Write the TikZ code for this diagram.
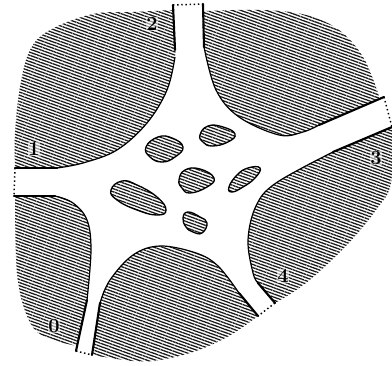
\documentclass[tikz,border=0pt]{standalone}
\usetikzlibrary{patterns.meta}
\definecolor{hatchc}{gray}{0.1}
\tikzset{
  x=0.75pt,y=-0.75pt,
  hatched/.style={pattern={Lines[angle=-20,distance=2.2pt,line width=0.95pt]},pattern color=hatchc},
  wall/.style={line width=1.6pt,black,line cap=round},
  thin wall/.style={line width=0.9pt,black},
  gate/.style={line width=1.1pt,black,dotted},
  hole/.style={hatched,draw=black,line width=1pt},
  lab/.style={font=\fontsize{15}{15}\selectfont\bfseries,inner sep=0.5pt,fill=white,fill opacity=0.55,text opacity=1}
}
\begin{document}
\begin{tikzpicture}
\useasboundingbox (0,0) rectangle (392,366);
% top-left region
\path[hatched] plot[smooth,tension=0.6] coordinates {(57,168) (83,163) (117,150) (147,123) (167,90) (175,57) (175,33) (173,10)}
  -- plot[smooth,tension=0.6] coordinates {(173,10) (133,12) (93,14) (50,30) (30,50) (20,87) (15,133) (15,168)} -- cycle;
% top-right region
\path[hatched] plot[smooth,tension=0.6] coordinates {(203,11) (204,47) (216,90) (239,117) (279,135) (303,132) (319,125) (378,99)}
  -- plot[smooth,tension=0.6] coordinates {(378,99) (378,93) (363,57) (339,30) (306,15) (263,10) (203,11)} -- cycle;
% right region
\path[hatched] plot[smooth,tension=0.6] coordinates {(392,127) (333,152) (276,183) (256,206) (248,240) (253,273) (258,283) (275,303)}
  -- plot[smooth,tension=0.6] coordinates {(275,303) (306,283) (346,246) (376,210) (391,183) (392,127)} -- cycle;
% bottom-middle region
\path[hatched] plot[smooth,tension=0.6] coordinates {(92,355) (100,303) (110,280) (133,255) (160,246) (196,253) (218,266) (239,293) (258,316)}
  -- plot[smooth,tension=0.6] coordinates {(258,316) (229,336) (196,351) (160,360) (133,361) (92,355)} -- cycle;
% bottom-left region
\path[hatched] plot[smooth,tension=0.6] coordinates {(15,196) (55,196) (73,203) (87,220) (91,250) (87,300) (77,346)}
  -- plot[smooth,tension=0.6] coordinates {(77,346) (43,336) (27,316) (17,273) (15,196)} -- cycle;
% boundary curves
\draw[thin wall] plot[smooth,tension=0.6] coordinates {(57,168) (83,163) (117,150) (147,123) (167,90) (175,57)};
\draw[thin wall] plot[smooth,tension=0.6] coordinates {(204,47) (216,90) (239,117) (279,135) (303,132) (319,125)};
\draw[thin wall] plot[smooth,tension=0.6] coordinates {(333,152) (276,183) (256,206) (248,240) (253,273) (258,283)};
\draw[thin wall] plot[smooth,tension=0.6] coordinates {(100,303) (110,280) (133,255) (160,246) (196,253) (218,266) (239,293)};
\draw[thin wall] plot[smooth,tension=0.6] coordinates {(55,196) (73,203) (87,220) (91,250) (87,300)};
% holes
\draw[hole] plot[smooth cycle,tension=0.8] coordinates {(146,147) (158,137) (172,138) (183,147) (175,157) (162,162) (150,157)};
\draw[hole] plot[smooth cycle,tension=0.8] coordinates {(200,135) (208,126) (223,127) (235,134) (228,142) (212,146) (203,142)};
\draw[hole] plot[smooth cycle,tension=0.8] coordinates {(179,180) (185,170) (200,169) (214,178) (207,187) (190,193) (182,188)};
\draw[hole] plot[smooth cycle,tension=0.8] coordinates {(229,187) (237,175) (248,168) (260,168) (255,178) (243,187) (232,192)};
\draw[hole] plot[smooth cycle,tension=0.8] coordinates {(111,190) (122,181) (137,185) (157,197) (166,210) (157,215) (137,210) (117,200)};
\draw[hole] plot[smooth cycle,tension=0.8] coordinates {(183,218) (188,212) (200,217) (207,223) (202,233) (193,232) (186,227)};
% corner nodes
\coordinate (a1) at (15,168); \coordinate (a2) at (57,168);
\coordinate (b1) at (14,196); \coordinate (b2) at (55,196);
\coordinate (c1) at (76,351); \coordinate (c2) at (87,300);
\coordinate (d1) at (92,355); \coordinate (d2) at (100,303);
\coordinate (e1) at (173,5); \coordinate (e2) at (175,50);
\coordinate (f1) at (203,4); \coordinate (f2) at (204,47);
\coordinate (g1) at (384,97); \coordinate (g2) at (319,125);
\coordinate (h1) at (392,127); \coordinate (h2) at (333,152);
\coordinate (i1) at (275,303); \coordinate (i2) at (258,283);
\coordinate (j1) at (258,316); \coordinate (j2) at (239,293);
% thick walls
\draw[wall] (a1) -- (a2); \draw[wall] (b1) -- (b2);
\draw[wall] (c1) -- (c2); \draw[wall] (d1) -- (d2);
\draw[wall] (e1) -- (e2); \draw[wall] (f1) -- (f2);
\draw[wall] (g1) -- (g2); \draw[wall] (h1) -- (h2);
\draw[wall] (i1) -- (i2); \draw[wall] (j1) -- (j2);
% dotted gates
\draw[gate] (a1) -- (b1); \draw[gate] (c1) -- (d1);
\draw[gate] (e1) -- (f1); \draw[gate] (g1) -- (h1);
\draw[gate] (i1) -- (j1);
% labels
\node[lab] (n0) at (54,326) {0};
\node[lab] (n1) at (34,149) {1};
\node[lab] (n2) at (152,24) {2};
\node[lab] (n3) at (376,158) {3};
\node[lab] (n4) at (283,276) {4};
\end{tikzpicture}
\end{document}
